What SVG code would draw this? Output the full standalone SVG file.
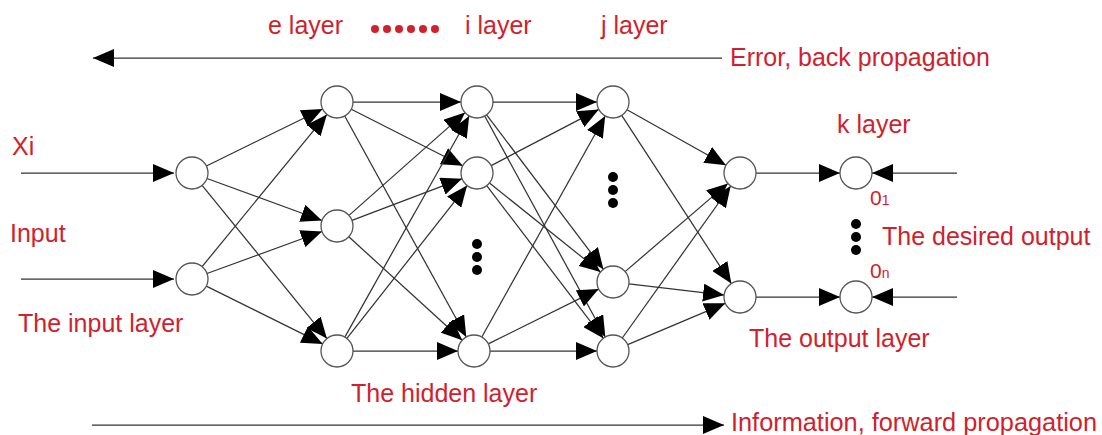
<svg xmlns="http://www.w3.org/2000/svg" width="1102" height="435" viewBox="0 0 1102 435">
<style>
.n{fill:#fff;stroke:#555;stroke-width:1.3}
.c{stroke:#333;stroke-width:1.25;fill:none;marker-end:url(#ah)}
.t{font-family:"Liberation Sans",Arial,sans-serif;font-size:25px;fill:#d0222d}
.d{fill:#000}
.rd{fill:#d0222d}
</style>
<defs>
<marker id="ah" markerUnits="userSpaceOnUse" markerWidth="21" markerHeight="18" refX="21" refY="9" orient="auto">
<path d="M0,0 L21,9 L0,18 Z" fill="#000"/>
</marker>
</defs>
<rect width="1102" height="435" fill="#fff"/>
<g id="connectors">
<line class="c" x1="722" y1="58" x2="93" y2="58"/>
<line class="c" x1="92" y1="425" x2="724" y2="425"/>
<line class="c" x1="21" y1="173" x2="174" y2="173"/>
<line class="c" x1="21" y1="279" x2="174" y2="279"/>
<line class="c" x1="206.4" y1="166" x2="322.6" y2="109"/>
<line class="c" x1="207" y1="178.5" x2="322" y2="220.5"/>
<line class="c" x1="202.1" y1="185.4" x2="326.9" y2="338.6"/>
<line class="c" x1="202.1" y1="266.6" x2="326.9" y2="114.4"/>
<line class="c" x1="207" y1="273.5" x2="322" y2="231.5"/>
<line class="c" x1="206.3" y1="286.1" x2="322.7" y2="343.9"/>
<line class="c" x1="353" y1="102" x2="461" y2="102"/>
<line class="c" x1="351.3" y1="109.2" x2="462.7" y2="165.8"/>
<line class="c" x1="344.7" y1="116" x2="466.3" y2="337"/>
<line class="c" x1="349" y1="215.4" x2="465" y2="112.6"/>
<line class="c" x1="352" y1="220.3" x2="462" y2="178.7"/>
<line class="c" x1="348.8" y1="236.8" x2="462.2" y2="340.2"/>
<line class="c" x1="344.8" y1="337.1" x2="469.2" y2="116"/>
<line class="c" x1="346.9" y1="338.4" x2="467.1" y2="185.6"/>
<line class="c" x1="353" y1="351" x2="458" y2="351"/>
<line class="c" x1="493" y1="102" x2="597" y2="102"/>
<line class="c" x1="486.6" y1="114.8" x2="603.4" y2="269.2"/>
<line class="c" x1="484.7" y1="116" x2="605.3" y2="337"/>
<line class="c" x1="491.2" y1="165.6" x2="598.8" y2="109.4"/>
<line class="c" x1="489.5" y1="183" x2="600.5" y2="272"/>
<line class="c" x1="486.7" y1="185.7" x2="603.3" y2="338.3"/>
<line class="c" x1="481.8" y1="337" x2="605.2" y2="116"/>
<line class="c" x1="488.3" y1="343.9" x2="598.7" y2="289.1"/>
<line class="c" x1="490" y1="351" x2="597" y2="351"/>
<line class="c" x1="627" y1="109.8" x2="726" y2="165.2"/>
<line class="c" x1="621.7" y1="115.4" x2="731.3" y2="283.6"/>
<line class="c" x1="625.1" y1="271.6" x2="727.9" y2="183.4"/>
<line class="c" x1="628.9" y1="283.9" x2="724.1" y2="295.1"/>
<line class="c" x1="622.3" y1="338" x2="730.7" y2="186"/>
<line class="c" x1="627.7" y1="344.7" x2="725.3" y2="303.3"/>
<line class="c" x1="756" y1="173" x2="840" y2="173"/>
<line class="c" x1="756" y1="297" x2="840" y2="297"/>
<line class="c" x1="957" y1="173" x2="872" y2="173"/>
<line class="c" x1="957" y1="297" x2="872" y2="297"/>
</g>
<g id="in1"><circle class="n" cx="192" cy="173" r="16"/></g>
<g id="in2"><circle class="n" cx="192" cy="279" r="16"/></g>
<g id="e1"><circle class="n" cx="337" cy="102" r="16"/></g>
<g id="e2"><circle class="n" cx="337" cy="226" r="16"/></g>
<g id="e3"><circle class="n" cx="337" cy="351" r="16"/></g>
<g id="i1"><circle class="n" cx="477" cy="102" r="16"/></g>
<g id="i2"><circle class="n" cx="477" cy="173" r="16"/></g>
<g id="i3"><circle class="n" cx="474" cy="351" r="16"/></g>
<g id="j1"><circle class="n" cx="613" cy="102" r="16"/></g>
<g id="j2"><circle class="n" cx="613" cy="282" r="16"/></g>
<g id="j3"><circle class="n" cx="613" cy="351" r="16"/></g>
<g id="k1"><circle class="n" cx="740" cy="173" r="16"/></g>
<g id="k2"><circle class="n" cx="740" cy="297" r="16"/></g>
<g id="o1"><circle class="n" cx="856" cy="173" r="16"/></g>
<g id="o2"><circle class="n" cx="856" cy="297" r="16"/></g>
<g id="dots">
<circle class="d" cx="477" cy="244" r="5"/><circle class="d" cx="477" cy="257" r="5"/><circle class="d" cx="477" cy="270" r="5"/>
<circle class="d" cx="613" cy="177" r="5"/><circle class="d" cx="613" cy="190" r="5"/><circle class="d" cx="613" cy="203" r="5"/>
<circle class="d" cx="856" cy="224" r="5"/><circle class="d" cx="856" cy="237" r="5"/><circle class="d" cx="856" cy="250" r="5"/>
<circle class="rd" cx="375" cy="29" r="4"/><circle class="rd" cx="387" cy="29" r="4"/><circle class="rd" cx="399" cy="29" r="4"/><circle class="rd" cx="411" cy="29" r="4"/><circle class="rd" cx="423" cy="29" r="4"/><circle class="rd" cx="435" cy="29" r="4"/>
</g>
<g id="labels">
<text class="t" x="268" y="34">e layer</text>
<text class="t" x="465" y="34">i layer</text>
<text class="t" x="601" y="34">j layer</text>
<text class="t" x="730" y="66">Error, back propagation</text>
<text class="t" x="12" y="155">Xi</text>
<text class="t" x="10" y="242">Input</text>
<text class="t" x="18" y="332">The input layer</text>
<text class="t" x="837" y="133">k layer</text>
<text class="t" x="870" y="205" style="font-size:21px">0<tspan style="font-size:14px">1</tspan></text>
<text class="t" x="882" y="245">The desired output</text>
<text class="t" x="870" y="278" style="font-size:21px">0<tspan style="font-size:14px">n</tspan></text>
<text class="t" x="749" y="347">The output layer</text>
<text class="t" x="351" y="402">The hidden layer</text>
<text class="t" x="731" y="431" textLength="366" lengthAdjust="spacingAndGlyphs">Information, forward propagation</text>
</g>
</svg>
